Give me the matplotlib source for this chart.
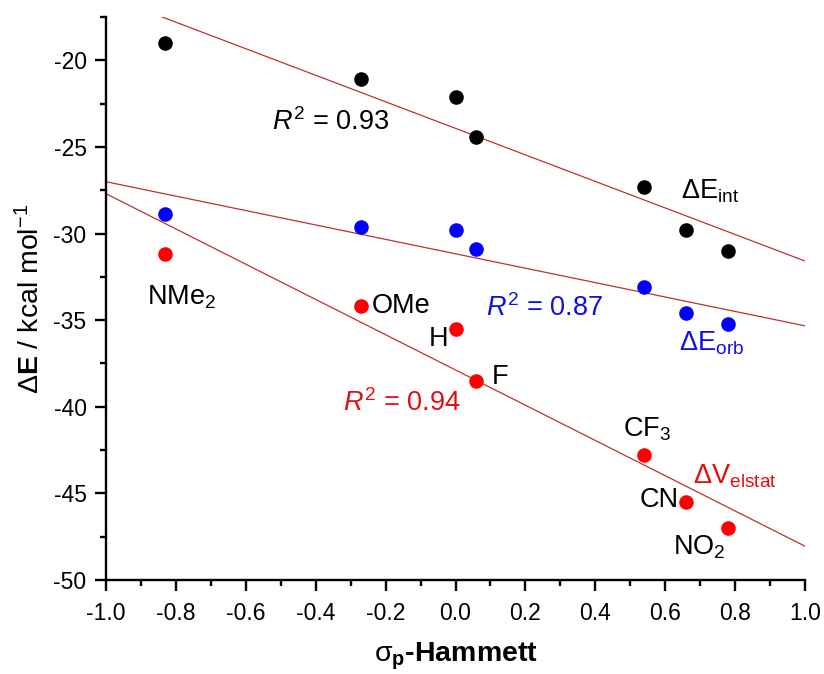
import numpy as np
import matplotlib
matplotlib.use("Agg")
import matplotlib.pyplot as plt
from matplotlib.ticker import MultipleLocator

plt.rcParams['font.family'] = ['Liberation Sans', 'DejaVu Sans']
plt.rcParams['mathtext.fontset'] = 'custom'
plt.rcParams['mathtext.rm'] = 'Liberation Sans'
plt.rcParams['mathtext.it'] = 'Liberation Sans:italic'
plt.rcParams['mathtext.bf'] = 'Liberation Sans:bold'

substituents = ['NMe$_2$', 'OMe', 'H', 'F', 'CF$_3$', 'CN', 'NO$_2$']
sigma_p = [-0.83, -0.27, 0.00, 0.06, 0.54, 0.66, 0.78]
dE_int = [-19.0, -21.1, -22.1, -24.4, -27.3, -29.8, -31.0]
dE_orb = [-28.9, -29.6, -29.8, -30.9, -33.1, -34.6, -35.2]
dV_elstat = [-31.2, -34.2, -35.5, -38.5, -42.8, -45.5, -47.0]
r2_labels = ['0.93', '0.87', '0.94']

fig = plt.figure(figsize=(8.24, 6.74), dpi=100)
ax = fig.add_axes([0.1286, 0.1395, 0.8484, 0.8353])

x = np.array(sigma_p)
xfit = np.array([-1.0, 1.0])
line_color = '#bb3333'
series = [(dE_int, 'black'), (dE_orb, '#0000ff'), (dV_elstat, '#ff0000')]
for yv, c in series:
    k, b = np.polyfit(x, np.array(yv), 1)
    ax.plot(xfit, k * xfit + b, color=line_color, lw=0.9, zorder=2)
for yv, c in series:
    ax.scatter(x, yv, s=110, color=c, zorder=3, linewidths=0)

fs = 19.5
# Substituent labels
ax.text(-0.883, -33.7, substituents[0], fontsize=fs, va='center', ha='left')
ax.text(-0.239, -34.2, substituents[1], fontsize=fs, va='center', ha='left')
ax.text(-0.021, -36.1, substituents[2], fontsize=fs, va='center', ha='right')
ax.text(0.104, -38.26, substituents[3], fontsize=fs, va='center', ha='left')
ax.text(0.479, -41.3, substituents[4], fontsize=fs, va='center', ha='left')
ax.text(0.640, -45.4, substituents[5], fontsize=fs, va='center', ha='right')
ax.text(0.622, -48.1, substituents[6], fontsize=fs, va='center', ha='left')

# R^2 labels
ax.text(-0.525, -23.58, r'$R^2$ = ' + r2_labels[0], fontsize=fs, va='center', ha='left', color='black')
ax.text(0.087, -34.28, r'$R^2$ = ' + r2_labels[1], fontsize=fs, va='center', ha='left', color='#1010e0')
ax.text(-0.322, -39.77, r'$R^2$ = ' + r2_labels[2], fontsize=fs, va='center', ha='left', color='#e01010')

# Series labels
ax.text(0.645, -27.55, r'$\Delta$E$_{\mathrm{int}}$', fontsize=fs, va='center', ha='left', color='black')
ax.text(0.640, -36.35, r'$\Delta$E$_{\mathrm{orb}}$', fontsize=fs, va='center', ha='left', color='#1010e0')
ax.text(0.679, -44.0, r'$\Delta$V$_{\mathrm{elstat}}$', fontsize=fs, va='center', ha='left', color='#e01010')

ax.set_xlim(-1.0, 1.0)
ax.set_ylim(-50, -17.5)
ax.xaxis.set_major_locator(MultipleLocator(0.2))
ax.xaxis.set_minor_locator(MultipleLocator(0.1))
ax.yaxis.set_major_locator(MultipleLocator(5))
ax.yaxis.set_minor_locator(MultipleLocator(2.5))
ax.xaxis.set_major_formatter(matplotlib.ticker.FormatStrFormatter('%.1f'))
ax.yaxis.set_major_formatter(matplotlib.ticker.FuncFormatter(lambda v, p: '%d' % v))

for s in ['top', 'right']:
    ax.spines[s].set_visible(False)
for s in ['left', 'bottom']:
    ax.spines[s].set_linewidth(1.7)
ax.tick_params(which='major', direction='out', length=8, width=1.7, labelsize=16.5, pad=6)
ax.tick_params(axis='x', which='major', pad=8)
ax.tick_params(which='minor', direction='out', length=4.5, width=1.7)

ax.set_xlabel(r'$\mathrm{\sigma}_{\mathbf{p}}$-Hammett', fontsize=20.5, fontweight='bold', labelpad=11)
ax.set_ylabel(r'$\Delta\mathbf{E}$ / kcal mol$^{-1}$', fontsize=20.5, labelpad=6)

fig.savefig('out.png', dpi=100)
